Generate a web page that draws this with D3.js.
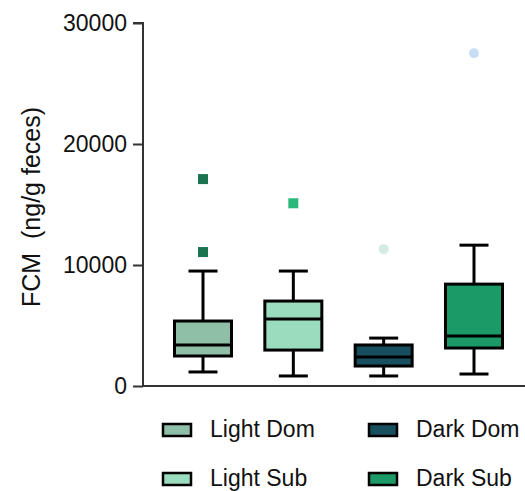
<!DOCTYPE html>
<html>
<head>
<meta charset="utf-8">
<script src="https://cdn.jsdelivr.net/npm/d3@7"></script>
<style>
  body { margin: 0; background: #fff; }
  svg { display: block; font-family: "Liberation Sans", Arial, sans-serif; }
</style>
</head>
<body>
<svg id="chart" width="525" height="491"></svg>
<script>
// Box plot data (ng/g feces)
const groups = ['Light Dom', 'Light Sub', 'Dark Dom', 'Dark Sub'];
const whiskerLow = [1160, 830, 830, 990];
const q1 = [2480, 2970, 1650, 3140];
const median = [3390, 5530, 2400, 4130];
const q3 = [5370, 7020, 3390, 8420];
const whiskerHigh = [9500, 9500, 3960, 11640];
const outliers = [[17100, 11070], [15100], [11310], [27500]];
const yTicks = [0, 10000, 20000, 30000];

const boxFill = ['#8fbfa6', '#9adcbd', '#174f5f', '#1b9966'];
const outlierFill = ['#1b7350', '#2ab77a', '#d3ebe2', '#c7ddf4'];
const outlierShape = ['square', 'square', 'circle', 'circle'];

const svg = d3.select('#chart');

const y = d3.scaleLinear().domain([0, 30000]).range([386, 23]);
const x = d3.scalePoint().domain(groups).range([203, 474]);
const boxW = 57, capW = 29;

// y axis
const yAxis = svg.append('g')
  .attr('transform', 'translate(143,0)')
  .call(d3.axisLeft(y).tickValues(yTicks).tickSize(10).tickPadding(6).tickFormat(d3.format('d')));
yAxis.select('.domain').attr('stroke', '#333').attr('stroke-width', 2).attr('d', `M-10,${y(30000)}H0V${y(0)}`);
yAxis.selectAll('.tick line').attr('stroke', '#333').attr('stroke-width', 2);
yAxis.selectAll('.tick text').attr('fill', '#111').style('font-size', '23px');

// x axis baseline (no ticks)
svg.append('line')
  .attr('x1', 142).attr('x2', 525)
  .attr('y1', y(0)).attr('y2', y(0))
  .attr('stroke', '#333').attr('stroke-width', 2);

// y label
svg.append('text')
  .attr('transform', `translate(40,${207}) rotate(-90)`)
  .attr('text-anchor', 'middle')
  .style('font-size', '25px')
  .attr('fill', '#111')
  .attr('xml:space', 'preserve')
  .text('FCM  (ng/g feces)');

// boxes
const box = svg.append('g').selectAll('g')
  .data(groups)
  .join('g')
  .attr('transform', d => `translate(${x(d)},0)`);

box.append('line')
  .attr('y1', (d, i) => y(whiskerLow[i]))
  .attr('y2', (d, i) => y(whiskerHigh[i]))
  .attr('stroke', '#000').attr('stroke-width', 3);

['low', 'high'].forEach(k => {
  box.append('line')
    .attr('x1', -capW / 2).attr('x2', capW / 2)
    .attr('y1', (d, i) => y(k === 'low' ? whiskerLow[i] : whiskerHigh[i]))
    .attr('y2', (d, i) => y(k === 'low' ? whiskerLow[i] : whiskerHigh[i]))
    .attr('stroke', '#000').attr('stroke-width', 3);
});

box.append('rect')
  .attr('x', -boxW / 2)
  .attr('width', boxW)
  .attr('y', (d, i) => y(q3[i]))
  .attr('height', (d, i) => y(q1[i]) - y(q3[i]))
  .attr('fill', (d, i) => boxFill[i])
  .attr('stroke', '#000').attr('stroke-width', 3);

box.append('line')
  .attr('x1', -boxW / 2).attr('x2', boxW / 2)
  .attr('y1', (d, i) => y(median[i]))
  .attr('y2', (d, i) => y(median[i]))
  .attr('stroke', '#000').attr('stroke-width', 3);

// outliers
box.each(function(d, i) {
  const g = d3.select(this);
  outliers[i].forEach(v => {
    if (outlierShape[i] === 'square') {
      g.append('rect')
        .attr('x', -5).attr('y', y(v) - 5)
        .attr('width', 10).attr('height', 10)
        .attr('fill', outlierFill[i]);
    } else {
      g.append('circle')
        .attr('cy', y(v)).attr('r', 5)
        .attr('fill', outlierFill[i]);
    }
  });
});

// legend
const legendX = [163, 369];
const legendY = [430, 479];
const legendOrder = [0, 2, 1, 3]; // row-major: Light Dom, Dark Dom / Light Sub, Dark Sub
const legend = svg.append('g').selectAll('g')
  .data(legendOrder)
  .join('g')
  .attr('transform', (gi, k) => `translate(${legendX[k % 2]},${legendY[Math.floor(k / 2)]})`);

legend.append('rect')
  .attr('x', 0).attr('y', -6)
  .attr('width', 28).attr('height', 12)
  .attr('fill', gi => boxFill[gi])
  .attr('stroke', '#000').attr('stroke-width', 2.5);

legend.append('text')
  .attr('x', 47).attr('y', 7)
  .style('font-size', '23px')
  .attr('fill', '#111')
  .text(gi => groups[gi]);
</script>
</body>
</html>
